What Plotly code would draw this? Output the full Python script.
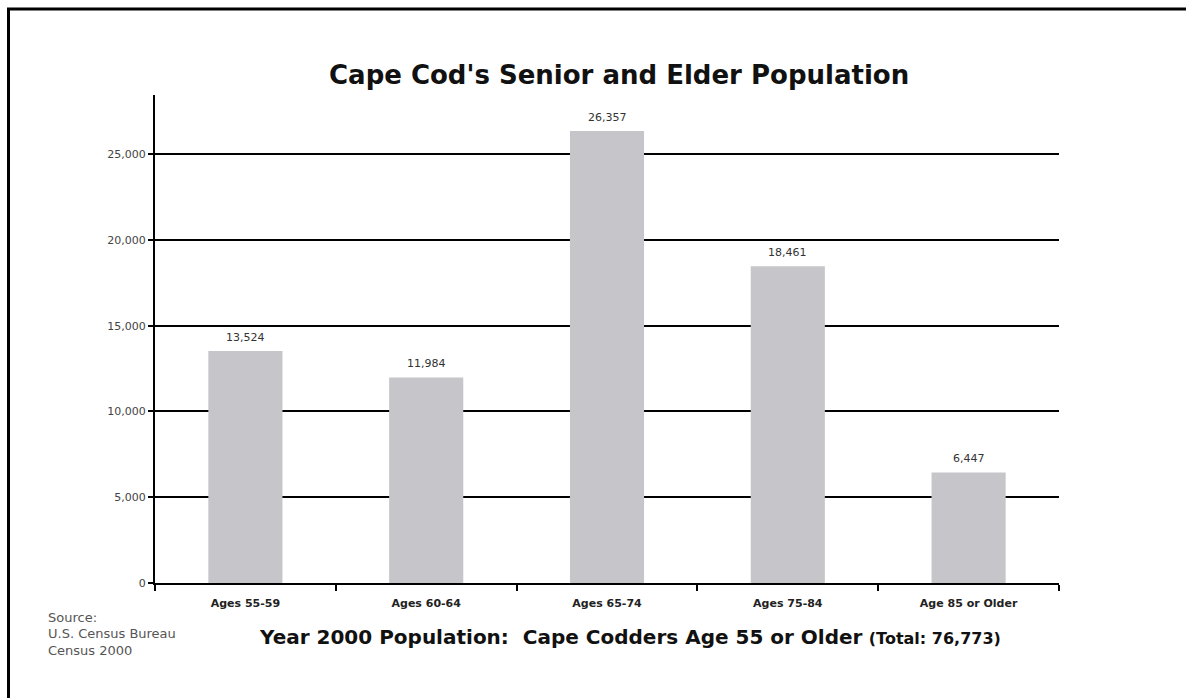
import plotly.graph_objects as go

# ---- data ----
categories = ["Ages 55-59", "Ages 60-64", "Ages 65-74", "Ages 75-84", "Age 85 or Older"]
population = [13524, 11984, 26357, 18461, 6447]
y_tick_values = [0, 5000, 10000, 15000, 20000, 25000]
y_tick_labels = ["0", "5,000", "10,000", "15,000", "20,000", "25,000"]
title_text = "Cape Cod's Senior and Elder Population"
bottom_text = "Year 2000 Population:&nbsp; Cape Codders Age 55 or Older"
total_text = "(Total: 76,773)"
source_lines = ["Source:", "U.S. Census Bureau", "Census 2000"]

W, H = 1186, 698
ML, MR, MT, MB = 155, 127, 95, 115
PW = W - ML - MR
PH = H - MT - MB


def px(x):
    return (x - ML) / PW


def py(y):
    return (H - MB - y) / PH


FONT_R = "DejaVu Sans, Arial, sans-serif"

fig = go.Figure()
fig.add_trace(go.Bar(
    x=categories,
    y=population,
    marker=dict(color="#c6c5c9", line=dict(width=0)),
    hoverinfo="skip",
))

annotations = [
    dict(text=f"<b>{title_text}</b>", x=px(619), y=py(75), xref="paper", yref="paper",
         xanchor="center", yanchor="middle", showarrow=False,
         font=dict(family=FONT_R, size=26, color="#111111")),
    dict(text=f"<b>{bottom_text}</b> <b><span style='font-size:16px'>{total_text}</span></b>",
         x=px(629.5), y=py(637), xref="paper", yref="paper",
         xanchor="center", yanchor="middle", showarrow=False,
         font=dict(family=FONT_R, size=20, color="#111111")),
]
for i, line in enumerate(source_lines):
    annotations.append(dict(text=line, x=px(46), y=py(617 + 16.5 * i), xref="paper", yref="paper",
                            xanchor="left", yanchor="middle", showarrow=False,
                            font=dict(family=FONT_R, size=13, color="#555555")))
# value labels above bars, positioned through the data axes
for c, v in zip(categories, population):
    annotations.append(dict(text=f"{v:,}", x=c, y=v, xref="x", yref="y",
                            xanchor="center", yanchor="bottom", yshift=5, showarrow=False,
                            font=dict(family=FONT_R, size=11, color="#333333")))

fig.update_layout(
    width=W, height=H, autosize=False,
    margin=dict(l=ML, r=MR, t=MT, b=MB, pad=0),
    paper_bgcolor="white", plot_bgcolor="white",
    showlegend=False,
    bargap=0.59,
    annotations=annotations,
    shapes=[dict(type="rect", xref="paper", yref="paper",
                 x0=px(8.5), x1=px(1210), y0=py(9), y1=py(720),
                 line=dict(color="black", width=3), fillcolor="rgba(0,0,0,0)", layer="above")],
    xaxis=dict(
        type="category", showline=True, linecolor="black", linewidth=2,
        ticks="outside", ticklen=6, tickwidth=2, tickcolor="black",
        tickson="boundaries", showgrid=False, zeroline=False,
        tickfont=dict(family=FONT_R, size=11, color="#222222", weight="bold"),
        ticklabelstandoff=9, automargin=False,
    ),
    yaxis=dict(
        range=[0, 28450], showline=True, linecolor="black", linewidth=2,
        tickvals=y_tick_values, ticktext=y_tick_labels,
        ticks="outside", ticklen=5, tickwidth=2, tickcolor="black",
        showgrid=True, gridcolor="black", gridwidth=2, zeroline=False,
        tickfont=dict(family=FONT_R, size=11, color="#444444"),
        automargin=False,
    ),
)

fig.write_html("out.html")
